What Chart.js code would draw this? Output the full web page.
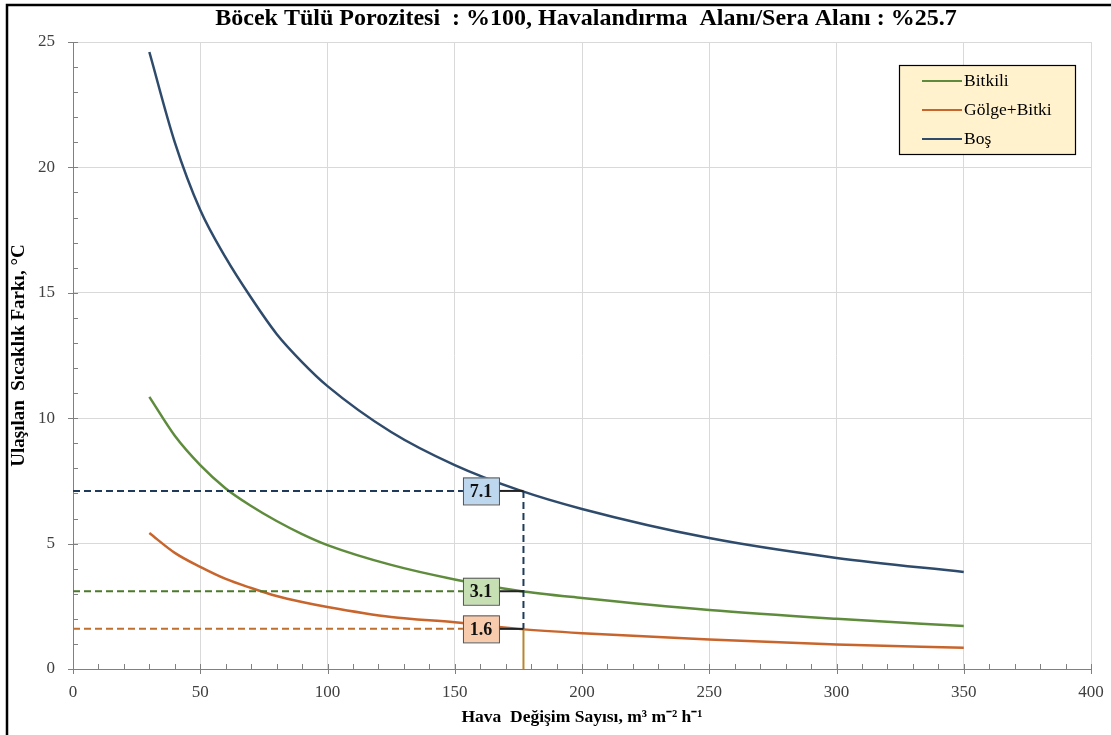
<!DOCTYPE html>
<html>
<head>
<meta charset="utf-8">
<script src="https://cdn.jsdelivr.net/npm/chart.js@4.4.1/dist/chart.umd.min.js"></script>
<style>
    html, body { margin: 0; padding: 0; background: #fff; }
    #wrap { position: relative; width: 1111px; height: 735px; }
</style>
</head>
<body>
<div id="wrap"><canvas id="tempChart" width="1111" height="735"></canvas></div>
<script>
// Veriler
const airChanges = [30, 40, 50, 60, 70, 80, 90, 100, 125, 150, 175, 200, 250, 300, 350];
const bitkili = [10.85, 9.3, 8.13, 7.2, 6.5, 5.9, 5.38, 4.94, 4.15, 3.57, 3.12, 2.83, 2.35, 2.0, 1.71];
const golgeBitki = [5.42, 4.63, 4.07, 3.59, 3.23, 2.91, 2.67, 2.47, 2.07, 1.86, 1.6, 1.43, 1.18, 0.98, 0.85];
const bos = [24.6, 21.0, 18.3, 16.4, 14.8, 13.36, 12.24, 11.28, 9.45, 8.13, 7.14, 6.38, 5.22, 4.43, 3.87];

const seriesLabels = ['Bitkili', 'Gölge+Bitki', 'Boş'];
const xTicks = [0, 50, 100, 150, 200, 250, 300, 350, 400];
const yTicks = [0, 5, 10, 15, 20, 25];

// Okuma çizgileri (177 m3/m2h değerinde)
const refX = 177;
const refValues = [7.1, 3.1, 1.6];
const refLabelX = 160.3;

const lineColors = ['#5E8C3C', '#C8652C', '#2F4B6C'];
const guideColors = ['#1F3A5A', '#4A7A2A', '#C0702E'];
const boxFills = ['#BDD7EE', '#C6E0B4', '#F8CBAD'];

const serif = '"Liberation Serif", "Times New Roman", serif';

function toPoints(ys) {
    return airChanges.map((x, i) => ({ x: x, y: ys[i] }));
}

// Başlık, çerçeve, küçük çentikler
const decorPlugin = {
    id: 'decor',
    beforeDraw(chart) {
        const c = chart.ctx;
        c.save();
        c.fillStyle = '#fff';
        c.fillRect(0, 0, chart.width, chart.height);
        c.restore();
    },
    afterDraw(chart) {
        const c = chart.ctx;
        const xs = chart.scales.x, ys = chart.scales.y;
        const area = chart.chartArea;
        c.save();
        // çerçeve
        c.strokeStyle = '#000';
        c.lineWidth = 2.5;
        c.beginPath();
        c.moveTo(7, chart.height);
        c.lineTo(7, 5);
        c.lineTo(chart.width, 5);
        c.stroke();

        // başlık
        c.fillStyle = '#000';
        c.font = 'bold 24px ' + serif;
        c.textAlign = 'center';
        c.textBaseline = 'middle';
        c.fillText('Böcek Tülü Porozitesi  : %100, Havalandırma  Alanı/Sera Alanı : %25.7', 586, 19);

        // çentikler
        c.strokeStyle = '#808080';
        c.lineWidth = 1;
        c.beginPath();
        for (let v = 0; v <= 400; v += 10) {
            const px = Math.round(xs.getPixelForValue(v)) + 0.5;
            if (v % 50 === 0) {
                c.moveTo(px, area.bottom - 5);
                c.lineTo(px, area.bottom + 5);
            } else {
                c.moveTo(px, area.bottom - 5);
                c.lineTo(px, area.bottom);
            }
        }
        for (let v = 0; v <= 25; v += 1) {
            const py = Math.round(ys.getPixelForValue(v)) + 0.5;
            if (v % 5 === 0) {
                c.moveTo(area.left - 5, py);
                c.lineTo(area.left + 5, py);
            } else {
                c.moveTo(area.left, py);
                c.lineTo(area.left + 5, py);
            }
        }
        c.stroke();

        // lejant
        const lx = 899, ly = 65, lw = 176, lh = 89;
        c.fillStyle = '#FFF2CC';
        c.fillRect(lx, ly, lw, lh);
        c.strokeStyle = '#000';
        c.lineWidth = 1.2;
        c.strokeRect(lx + 0.5, ly + 0.5, lw, lh);
        c.font = '17.5px ' + serif;
        c.textAlign = 'left';
        c.textBaseline = 'middle';
        chart.data.datasets.forEach((ds, i) => {
            const rowY = ly + 16 + i * 29;
            c.strokeStyle = ds.borderColor;
            c.lineWidth = 2;
            c.beginPath();
            c.moveTo(922, rowY);
            c.lineTo(962, rowY);
            c.stroke();
            c.fillStyle = '#000';
            c.fillText(ds.label, 964, rowY);
        });
        c.restore();
    }
};

// Okuma çizgileri ve etiket kutuları
const guidePlugin = {
    id: 'guides',
    afterDatasetsDraw(chart) {
        const c = chart.ctx;
        const xs = chart.scales.x, ys = chart.scales.y;
        const x0 = xs.getPixelForValue(0);
        const xr = xs.getPixelForValue(refX);
        const xb = xs.getPixelForValue(refLabelX);
        const bw = 36, bh = 27;
        c.save();
        c.lineWidth = 2;
        // dikey çizgi
        const yTop = ys.getPixelForValue(refValues[0]);
        const yLow = ys.getPixelForValue(refValues[2]);
        const y0 = ys.getPixelForValue(0);
        c.setLineDash([7, 4]);
        c.strokeStyle = guideColors[0];
        c.beginPath();
        c.moveTo(xr, yTop);
        c.lineTo(xr, yLow);
        c.stroke();
        c.setLineDash([]);
        c.strokeStyle = '#B8862E';
        c.beginPath();
        c.moveTo(xr, yLow);
        c.lineTo(xr, y0);
        c.stroke();

        refValues.forEach((v, i) => {
            const py = ys.getPixelForValue(v);
            c.setLineDash([7, 4]);
            c.strokeStyle = guideColors[i];
            c.beginPath();
            c.moveTo(x0, py);
            c.lineTo(xb - bw / 2, py);
            c.stroke();
            c.setLineDash([]);
            c.strokeStyle = '#222';
            c.beginPath();
            c.moveTo(xb + bw / 2, py);
            c.lineTo(xr, py);
            c.stroke();
            // kutu
            c.fillStyle = boxFills[i];
            c.fillRect(xb - bw / 2, py - bh / 2, bw, bh);
            c.strokeStyle = '#555';
            c.lineWidth = 1;
            c.strokeRect(xb - bw / 2 + 0.5, py - bh / 2 + 0.5, bw, bh);
            c.lineWidth = 2;
            c.fillStyle = '#111';
            c.font = 'bold 18px ' + serif;
            c.textAlign = 'center';
            c.textBaseline = 'middle';
            c.fillText(v.toFixed(1), xb, py + 1);
        });
        c.restore();
    }
};

const series = [bitkili, golgeBitki, bos];

new Chart(document.getElementById('tempChart'), {
    type: 'line',
    data: {
        datasets: series.map((ys, i) => ({
            label: seriesLabels[i],
            data: toPoints(ys),
            borderColor: lineColors[i],
            backgroundColor: lineColors[i],
            borderWidth: 2.5,
            pointRadius: 0,
            cubicInterpolationMode: 'monotone',
            fill: false
        }))
    },
    options: {
        responsive: false,
        animation: false,
        events: [],
        layout: { padding: { top: 42, right: 20, left: 0, bottom: 0 } },
        plugins: {
            legend: { display: false },
            title: { display: false },
            tooltip: { enabled: false }
        },
        scales: {
            x: {
                type: 'linear',
                min: 0,
                max: 400,
                afterBuildTicks: (scale) => { scale.ticks = xTicks.map(v => ({ value: v })); },
                afterFit: (scale) => {
                    scale.height = 66;
                    scale.paddingLeft = 0;
                    scale.paddingRight = 0;
                },
                grid: { color: '#D9D9D9', drawTicks: false },
                border: { color: '#808080' },
                ticks: {
                    padding: 13,
                    color: '#404040',
                    font: { family: serif, size: 17 }
                },
                title: {
                    display: true,
                    text: 'Hava  Değişim Sayısı, m³ m⁻² h⁻¹',
                    color: '#000',
                    padding: 7,
                    font: { family: serif, size: 17.5, weight: 'bold' }
                }
            },
            y: {
                min: 0,
                max: 25,
                afterBuildTicks: (scale) => { scale.ticks = yTicks.map(v => ({ value: v })); },
                afterFit: (scale) => {
                    scale.width = 73;
                    scale.paddingTop = 0;
                    scale.paddingBottom = 0;
                },
                grid: { color: '#D9D9D9', drawTicks: false },
                border: { color: '#808080' },
                ticks: {
                    padding: 18,
                    color: '#404040',
                    font: { family: serif, size: 17 }
                },
                title: {
                    display: true,
                    text: 'Ulaşılan  Sıcaklık Farkı, °C',
                    color: '#000',
                    padding: 8,
                    font: { family: serif, size: 19, weight: 'bold' }
                }
            }
        }
    },
    plugins: [decorPlugin, guidePlugin]
});
</script>
</body>
</html>
